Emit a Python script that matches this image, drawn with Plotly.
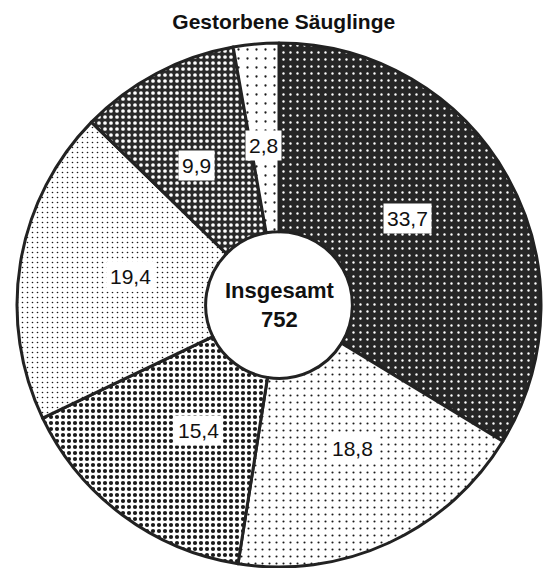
import math
import plotly.graph_objects as go

# data
categories = ["A", "B", "C", "D", "E", "F"]
values = [33.7, 18.8, 15.4, 19.4, 9.9, 2.8]
labels_text = ["33,7", "18,8", "15,4", "19,4", "9,9", "2,8"]
total_label = "752"
title_text = "Gestorbene Säuglinge"

W, H = 551, 568
CX, CY, R = 279, 305, 262  # pie centre / radius in px

pat_bg = ["#262626", "#ffffff", "#ffffff", "#ffffff", "#2a2a2a", "#ffffff"]
pat_fg = ["#ffffff", "#1a1a1a", "#1a1a1a", "#1a1a1a", "#ffffff", "#1a1a1a"]
pat_size = [7, 7, 6, 5, 6, 9]
pat_sol = [0.09, 0.07, 0.38, 0.08, 0.3, 0.05]

fig = go.Figure()
fig.add_trace(go.Pie(
    labels=categories, values=values, sort=False, direction="clockwise",
    rotation=0, hole=0.28, textinfo="none", hoverinfo="skip",
    marker=dict(colors=pat_bg, line=dict(color="#222222", width=3),
                pattern=dict(shape=["."] * 6, fillmode="replace",
                             bgcolor=pat_bg, fgcolor=pat_fg,
                             size=pat_size, solidity=pat_sol)),
    domain=dict(x=[(CX - R) / W, (CX + R) / W],
                y=[max(0, 1 - (CY + R) / H), 1 - (CY - R) / H]),
    showlegend=False,
))

tot = sum(values)
cum = 0
for v, t in zip(values, labels_text):
    mid = (cum + v / 2) / tot * 2 * math.pi
    cum += v
    rr = 0.67 * R
    px = CX + rr * math.sin(mid)
    py = CY - rr * math.cos(mid)
    fig.add_annotation(x=px / W, y=1 - py / H, xref="paper", yref="paper",
                       text=t, showarrow=False, bgcolor="white", borderpad=3,
                       font=dict(family="Liberation Sans, Arial", size=21, color="#111"))

fig.add_annotation(x=CX / W, y=1 - CY / H, xref="paper", yref="paper",
                   text="<b>Insgesamt</b><br><b>" + total_label + "</b>", showarrow=False,
                   font=dict(family="Liberation Sans, Arial", size=22, color="#111"))

fig.update_layout(
    width=W, height=H, margin=dict(l=0, r=0, t=0, b=0),
    paper_bgcolor="white", plot_bgcolor="white",
    title=dict(text="<b>" + title_text + "</b>", x=0.515, xanchor="center",
               y=1 - 22 / H, yanchor="middle",
               font=dict(family="Liberation Sans, Arial", size=21, color="#111")),
)
fig.write_html("out.html", config={"displayModeBar": False},
               post_script="document.body.style.margin='0';document.body.style.overflow='hidden';")
